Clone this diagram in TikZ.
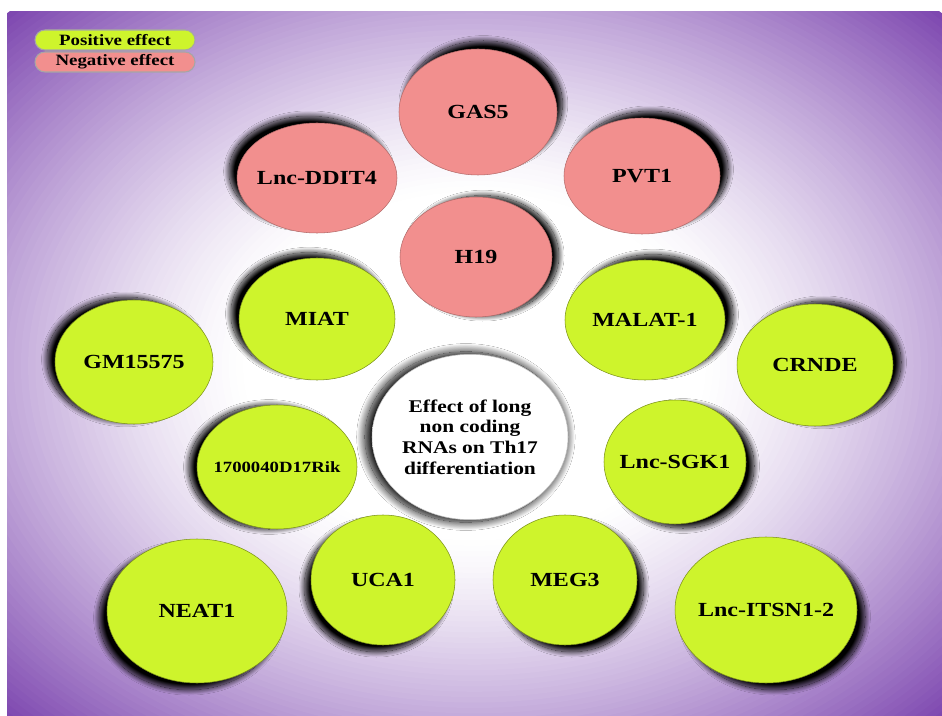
\documentclass[tikz,border=0pt]{standalone}
\usepackage{fontspec}
\setmainfont{Liberation Serif}[FakeStretch=1.2]
\usetikzlibrary{shapes.geometric,shadows.blur}

\definecolor{posgreen}{RGB}{206,244,44}
\definecolor{negpink}{RGB}{242,143,142}
\definecolor{bgpurple}{RGB}{126,72,176}
\pgfdeclareradialshading{hubglow}{\pgfpoint{0bp}{0bp}}{color(0bp)=(white); color(36bp)=(white); color(50bp)=(black!25)}

\tikzset{
  lnc/.style={ellipse, inner sep=0pt, inner xsep=-6pt, text=black,
    font=\bfseries\fontsize{15}{17}\selectfont},
  posnode/.style={lnc, fill=posgreen, draw=posgreen!60!black, line width=0.4pt},
  negnode/.style={lnc, fill=negpink, draw=negpink!75!black, line width=0.4pt},
  dropsh/.style 2 args={blur shadow={shadow xshift=#1, shadow yshift=#2,
    shadow blur radius=4pt, shadow blur steps=30, shadow opacity=100}},
  legendpill/.style={rectangle, rounded corners=7.5pt, minimum width=120pt,
    minimum height=15pt, inner sep=0pt, draw=black!35, line width=0.8pt,
    font=\bfseries\fontsize{11.8}{13}\selectfont}
}

\begin{document}
\begin{tikzpicture}[x=0.75pt, y=-0.75pt]
  \useasboundingbox (0,0) rectangle (942,716);
  \fill[white] (0,0) rectangle (942,716);
  % purple glow, white in the middle
  \begin{scope}
    \clip (7,12) rectangle (942,716);
    \foreach \i in {0,...,60} {
      \pgfmathsetmacro\t{1-0.65*\i/60}
      \pgfmathsetmacro\p{100*((\t-0.35)/0.65)^1.3}
      \fill[bgpurple!\p!white] (474.5,366) ellipse [x radius=496pt*\t, y radius=374pt*\t];
    }
  \end{scope}

  % legend
  \node[legendpill, fill=posgreen] (legpos) at (115,40) {Positive effect};
  \node[legendpill, fill=negpink] (legneg) at (115,62) {Negative effect};

  % negative effect
  \foreach \nm/\x/\y/\rx/\ry/\sx/\sy/\txt in {ddit/317/178/80/55/-6pt/5pt/Lnc-DDIT4,
      gas/478/112/79/63/4pt/6pt/GAS5, pvt/642/176/78/58/6pt/5pt/PVT1,
      hnineteen/476/257/76/60/5pt/1pt/H19}
    \node[negnode, dropsh={\sx}{\sy}, minimum width=1.5pt*\rx, minimum height=1.5pt*\ry] (\nm) at (\x,\y) {\txt};

  % positive effect
  \foreach \nm/\x/\y/\rx/\ry/\sx/\sy/\txt in {miat/317/319/78/61/-6pt/4pt/MIAT,
      malat/645/320/80/60/6pt/4pt/MALAT-1, gm/134/362/79/62/-6pt/2pt/GM15575,
      crnde/815/365/78/61/6pt/2pt/CRNDE, sgk/675/462/71/62/6pt/-3pt/Lnc-SGK1,
      neat/197/611/90/72/-6pt/-5pt/NEAT1, uca/383/580/72/65/-5pt/-5pt/UCA1,
      meg/565/580/72/65/5pt/-5pt/MEG3, itsn/766/610/91/73/6pt/-5pt/Lnc-ITSN1-2}
    \node[posnode, dropsh={\sx}{\sy}, minimum width=1.5pt*\rx, minimum height=1.5pt*\ry] (\nm) at (\x,\y) {\txt};
  \node[posnode, dropsh={-6pt}{0pt}, minimum width=120pt, minimum height=93pt,
    inner xsep=-9pt, font=\bfseries\fontsize{11.7}{13}\selectfont] (rik) at (277,467) {1700040D17Rik};

  % centre
  \node[lnc, shading=hubglow, draw=black!25, line width=0.4pt, align=center,
    blur shadow={shadow xshift=-3pt, shadow yshift=0pt, shadow scale=1.03,
      shadow blur radius=6pt, shadow blur steps=30, shadow opacity=100},
    minimum width=147pt, minimum height=124pt,
    font=\bfseries\fontsize{13.4}{15.5}\selectfont] (hub) at (470,437)
    {Effect of long\\non coding\\RNAs on Th17\\differentiation};
\end{tikzpicture}
\end{document}
